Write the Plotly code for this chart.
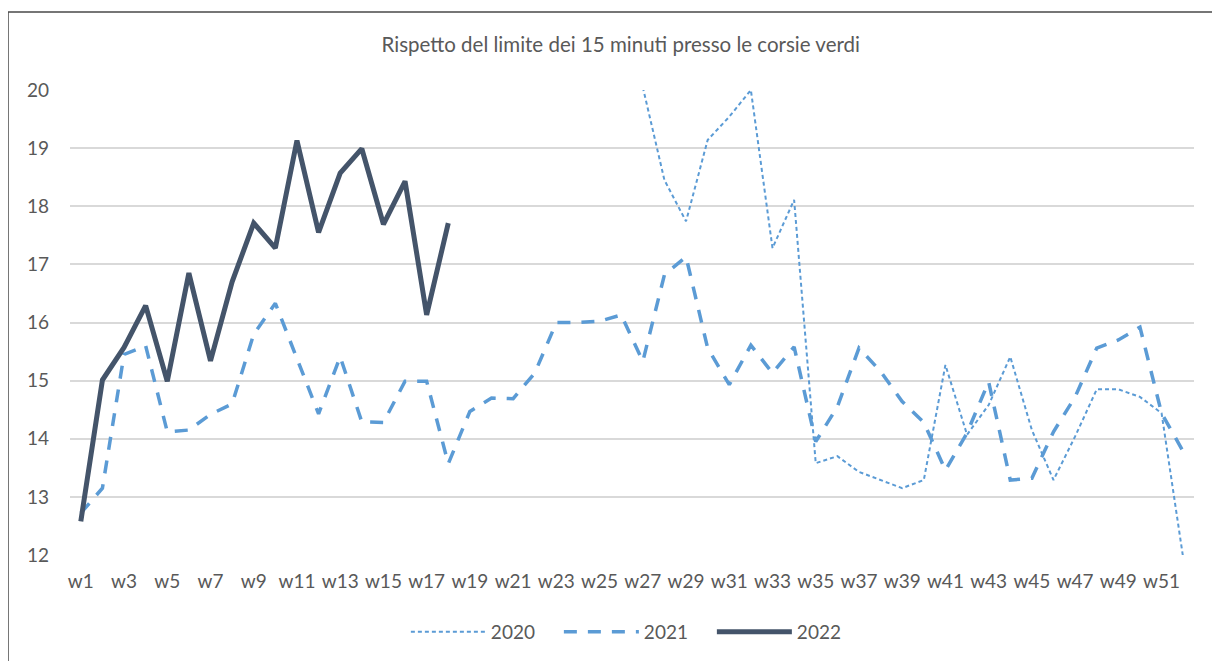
import plotly.graph_objects as go

weeks = [f"w{i}" for i in range(1, 53)]
tick_labels = [f"w{i}" for i in range(1, 53, 2)]

# 2020: data only from w27 (earlier weeks missing / off-scale)
vals_2020 = [None] * 26 + [
    20.05, 18.45, 17.74, 19.14, 19.54, 20.0, 17.28, 18.11, 13.58, 13.70,
    13.43, 13.29, 13.15, 13.29, 15.27, 14.07, 14.58, 15.41, 14.15, 13.29,
    14.04, 14.85, 14.85, 14.72, 14.44, 11.95,
]

vals_2021 = [
    12.72, 13.15, 15.45, 15.60, 14.12, 14.15, 14.42, 14.60, 15.80, 16.33,
    15.38, 14.43, 15.41, 14.29, 14.28, 14.99, 14.99, 13.57, 14.47, 14.70,
    14.69, 15.13, 16.00, 16.00, 16.02, 16.13, 15.33, 16.82, 17.13, 15.56,
    14.93, 15.61, 15.13, 15.58, 13.95, 14.55, 15.56, 15.16, 14.64, 14.28,
    13.46, 14.10, 14.98, 13.29, 13.32, 14.12, 14.72, 15.56, 15.70, 15.92,
    14.44, 13.78,
]

vals_2022 = [
    12.58, 15.01, 15.57, 16.29, 14.99, 16.85, 15.34, 16.70, 17.71, 17.28,
    19.13, 17.55, 18.57, 18.99, 17.69, 18.43, 16.13, 17.71,
]

series_names = ["2020", "2021", "2022"]

fig = go.Figure()
fig.add_trace(go.Scatter(
    x=weeks, y=vals_2020, name=series_names[0], mode="lines",
    line=dict(color="#5B9BD5", width=2, dash="4px,3px"),
    connectgaps=False,
))
fig.add_trace(go.Scatter(
    x=weeks, y=vals_2021, name=series_names[1], mode="lines",
    line=dict(color="#5B9BD5", width=3.5, dash="13px,11px"),
))
fig.add_trace(go.Scatter(
    x=weeks[:len(vals_2022)], y=vals_2022, name=series_names[2], mode="lines",
    line=dict(color="#44546A", width=5),
))

font_family = "Lato, 'Open Sans', sans-serif"

# page body has an 8px margin, so layout is compensated for it
L, T = 62, 82
PW, PH = 1124, 465

fig.update_layout(
    width=1220, height=661,
    paper_bgcolor="white", plot_bgcolor="white",
    margin=dict(l=L, r=1220 - L - PW, t=T, b=661 - T - PH),
    font=dict(family=font_family, color="#595959", size=19),
    title=dict(
        text="Rispetto del limite dei 15 minuti presso le corsie verdi",
        x=0.49, xref="paper", xanchor="center",
        y=1 - 37 / 661, yref="container", yanchor="middle",
        font=dict(size=20.5, color="#595959", family=font_family),
    ),
    showlegend=True,
    legend=dict(
        orientation="h", x=0.503, xanchor="center",
        y=-77 / PH, yanchor="middle",
        font=dict(size=19, color="#595959"),
        itemwidth=75, traceorder="normal",
        entrywidth=63, entrywidthmode="pixels",
    ),
    xaxis=dict(
        type="category", categoryorder="array", categoryarray=weeks,
        tickmode="array", tickvals=tick_labels, ticktext=tick_labels,
        showgrid=False, showline=False, zeroline=False,
        ticks="", ticklabelstandoff=13,
        tickfont=dict(size=19, color="#595959"),
        range=[-0.5, 51.5],
    ),
    yaxis=dict(
        range=[12, 20], dtick=1, tick0=12,
        showgrid=True, gridcolor="#D9D9D9", gridwidth=1.5,
        zeroline=False, showline=False, ticks="",
        ticklabelstandoff=20,
        tickfont=dict(size=19, color="#595959"),
    ),
    shapes=[dict(
        type="rect", xref="paper", yref="paper",
        x0=(0 - L) / PW, x1=1.2,
        y0=-0.5, y1=(PH + T - 4) / PH,
        line=dict(color="#4a4a4a", width=1.5),
        fillcolor="rgba(0,0,0,0)", layer="below",
    )],
)

fig.write_html("out.html")
